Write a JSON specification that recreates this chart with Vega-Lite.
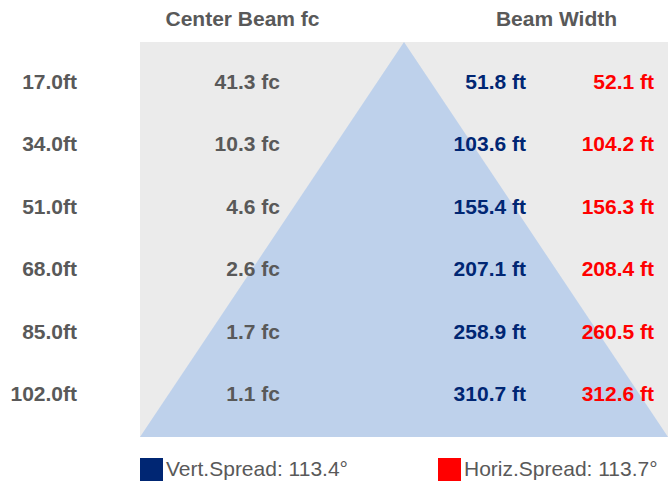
{
  "$schema": "https://vega.github.io/schema/vega-lite/v6.json",
  "width": 668,
  "height": 481,
  "padding": 0,
  "autosize": {"type": "none"},
  "background": "white",
  "config": {"view": {"stroke": null}, "font": "Liberation Sans"},
  "datasets": {
    "table": [
      {"row": "17.0ft", "fc": "41.3 fc", "vert": "51.8 ft", "horiz": "52.1 ft"},
      {"row": "34.0ft", "fc": "10.3 fc", "vert": "103.6 ft", "horiz": "104.2 ft"},
      {"row": "51.0ft", "fc": "4.6 fc", "vert": "155.4 ft", "horiz": "156.3 ft"},
      {"row": "68.0ft", "fc": "2.6 fc", "vert": "207.1 ft", "horiz": "208.4 ft"},
      {"row": "85.0ft", "fc": "1.7 fc", "vert": "258.9 ft", "horiz": "260.5 ft"},
      {"row": "102.0ft", "fc": "1.1 fc", "vert": "310.7 ft", "horiz": "312.6 ft"}
    ],
    "beam": [
      {"u": -1, "v": 1},
      {"u": 0, "v": 0},
      {"u": 1, "v": 1}
    ]
  },
  "resolve": {"scale": {"y": "independent"}},
  "layer": [
    {
      "layer": [
        {
          "data": {"values": [{"area": "field"}]},
          "mark": {"type": "rect", "color": "#EBEBEB"},
          "encoding": {
            "x": {"datum": -1, "type": "quantitative", "scale": {"domain": [-1.5303, 1], "nice": false, "zero": false}, "axis": null},
            "x2": {"datum": 1},
            "y": {"datum": 0, "type": "quantitative", "scale": {"domain": [-0.1063, 1.1114], "nice": false, "zero": false, "reverse": true}, "axis": null},
            "y2": {"datum": 1}
          }
        },
        {
          "data": {"name": "beam"},
          "mark": {"type": "area", "color": "#BED1EB", "opacity": 1},
          "encoding": {
            "x": {"field": "u", "type": "quantitative", "scale": {"domain": [-1.5303, 1], "nice": false, "zero": false}, "axis": null},
            "y": {"field": "v", "type": "quantitative", "scale": {"domain": [-0.1063, 1.1114], "nice": false, "zero": false, "reverse": true}, "axis": null},
            "y2": {"datum": 1}
          }
        }
      ]
    },
    {
      "data": {"name": "table"},
      "encoding": {
        "y": {"field": "row", "type": "ordinal", "scale": {"domain": ["header", "17.0ft", "34.0ft", "51.0ft", "68.0ft", "85.0ft", "102.0ft"], "range": [20, 395], "padding": 0}, "axis": null}
      },
      "layer": [
        {
          "data": {"values": [{"row": "header", "title": "Center Beam fc"}]},
          "mark": {"type": "text", "fontSize": 21, "fontWeight": "bold", "color": "#595959", "align": "center", "baseline": "middle"},
          "encoding": {
            "x": {"datum": -0.6117, "type": "quantitative", "scale": {"domain": [-1.5303, 1], "nice": false, "zero": false}, "axis": null},
            "text": {"field": "title"}
          }
        },
        {
          "data": {"values": [{"row": "header", "title": "Beam Width"}]},
          "mark": {"type": "text", "fontSize": 21, "fontWeight": "bold", "color": "#595959", "align": "center", "baseline": "middle"},
          "encoding": {
            "x": {"datum": 0.5777, "type": "quantitative", "scale": {"domain": [-1.5303, 1], "nice": false, "zero": false}, "axis": null},
            "text": {"field": "title"}
          }
        },
        {
          "mark": {"type": "text", "fontSize": 21, "fontWeight": "bold", "color": "#595959", "align": "right", "baseline": "middle"},
          "encoding": {
            "x": {"datum": -1.2386, "type": "quantitative", "scale": {"domain": [-1.5303, 1], "nice": false, "zero": false}, "axis": null},
            "text": {"field": "row"}
          }
        },
        {
          "mark": {"type": "text", "fontSize": 21, "fontWeight": "bold", "color": "#595959", "align": "right", "baseline": "middle"},
          "encoding": {
            "x": {"datum": -0.4697, "type": "quantitative", "scale": {"domain": [-1.5303, 1], "nice": false, "zero": false}, "axis": null},
            "text": {"field": "fc"}
          }
        },
        {
          "mark": {"type": "text", "fontSize": 21, "fontWeight": "bold", "align": "right", "baseline": "middle"},
          "encoding": {
            "x": {"datum": 0.4621, "type": "quantitative", "scale": {"domain": [-1.5303, 1], "nice": false, "zero": false}, "axis": null},
            "text": {"field": "vert"},
            "color": {
              "datum": "Vert.Spread: 113.4°",
              "type": "nominal",
              "scale": {"domain": ["Vert.Spread: 113.4°", "Horiz.Spread: 113.7°"], "range": ["#002673", "#FF0000"]},
              "legend": {
                "title": null,
                "orient": "none",
                "legendX": 140,
                "legendY": 458,
                "direction": "horizontal",
                "symbolType": "square",
                "symbolSize": 529,
                "symbolStrokeWidth": 0,
                "symbolOpacity": 1,
                "labelFontSize": 21,
                "labelFont": "Liberation Sans",
                "labelColor": "#595959",
                "labelOffset": 3,
                "labelLimit": 400,
                "columnPadding": 90,
                "padding": 0
              }
            }
          }
        },
        {
          "mark": {"type": "text", "fontSize": 21, "fontWeight": "bold", "align": "right", "baseline": "middle"},
          "encoding": {
            "x": {"datum": 0.947, "type": "quantitative", "scale": {"domain": [-1.5303, 1], "nice": false, "zero": false}, "axis": null},
            "text": {"field": "horiz"},
            "color": {
              "datum": "Horiz.Spread: 113.7°",
              "type": "nominal",
              "scale": {"domain": ["Vert.Spread: 113.4°", "Horiz.Spread: 113.7°"], "range": ["#002673", "#FF0000"]}
            }
          }
        }
      ]
    }
  ]
}
